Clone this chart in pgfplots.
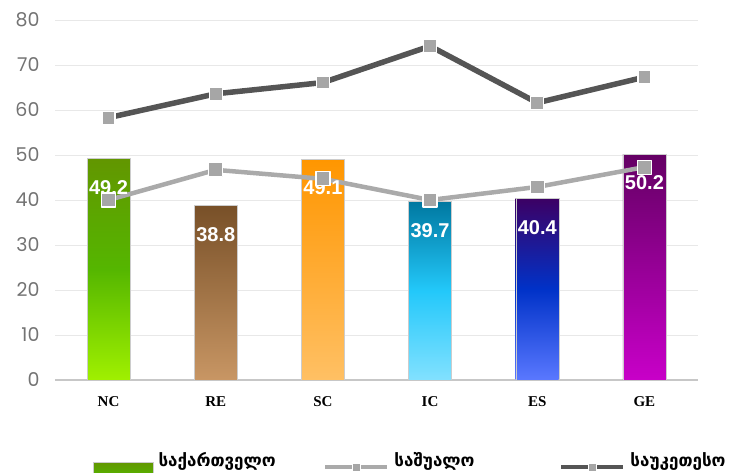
\documentclass[border=0pt]{standalone}
\usepackage{pgfplots}
\pgfplotsset{compat=1.18}
\usepackage{fontspec}
\setmainfont{Liberation Sans}
\newfontfamily\geo{DejaVu Sans}
\newfontfamily\tickf{Poppins}
\newfontfamily\lab{Liberation Serif}
\definecolor{ncT}{RGB}{98,150,0}
\definecolor{ncM}{RGB}{85,182,0}
\definecolor{ncB}{RGB}{160,240,0}
\definecolor{reT}{RGB}{120,80,40}
\definecolor{reB}{RGB}{200,150,100}
\definecolor{scT}{RGB}{255,150,0}
\definecolor{scB}{RGB}{255,192,100}
\definecolor{icT}{RGB}{0,120,160}
\definecolor{icM}{RGB}{35,200,250}
\definecolor{icB}{RGB}{130,225,255}
\definecolor{esT}{RGB}{60,0,100}
\definecolor{esM}{RGB}{0,50,200}
\definecolor{esB}{RGB}{90,120,255}
\definecolor{geT}{RGB}{100,0,100}
\definecolor{geB}{RGB}{200,0,200}
\definecolor{midline}{RGB}{170,170,170}
\definecolor{topline}{RGB}{85,85,85}
\definecolor{markgray}{RGB}{166,166,166}
\pgfplotsset{
  linelegend/.style={legend image code/.code={\draw[mark repeat=2,mark phase=2,##1, line width=4pt, mark size=4pt] plot coordinates {(0pt,-7pt) (31pt,-7pt) (62pt,-7pt)};}},
  barlegend/.style={legend image code/.code={\fill[top color=ncT, bottom color=ncM] (0pt,-17pt) rectangle (60pt,-2pt);}},
}
\begin{document}
\begin{tikzpicture}
\begin{axis}[
  at={(0pt,0pt)}, anchor=south west,
  scale only axis, width=643pt, height=360pt,
  xmin=-0.5, xmax=5.5, ymin=0, ymax=80,
  ytick={0,10,...,80},
  xtick={0,...,5}, xticklabels={NC,RE,SC,IC,ES,GE},
  /pgf/number format/assume math mode=true,
  axis x line*=bottom, axis y line*=left,
  x axis line style={draw=black!22, line width=2pt, -},
  y axis line style={draw=none, -},
  major tick length=0pt,
  ymajorgrids, grid style={draw=black!9, line width=0.8pt},
  yticklabel style={font=\tickf\fontsize{19}{19}\selectfont, text=black!55, xshift=-12pt},
  xticklabel style={font=\lab\bfseries\fontsize{15}{15}\selectfont, text=black, yshift=-13pt},
  legend columns=3,
  legend style={at={(0,0)}, anchor=west, xshift=38pt, yshift=-84pt, draw=none, fill=none, inner sep=0pt,
    font=\geo\bfseries\fontsize{17}{17}\selectfont,
    /tikz/every odd column/.append style={column sep=3pt}},
  legend cell align=left,
  bar nodes/.style={nodes near coords, nodes near coords style={text=white, font=\bfseries\fontsize{20}{20}\selectfont, anchor=center, yshift=-29pt}},
  mybar/.style={ybar, bar width=43pt, bar shift=0pt, draw=white!80!black, line width=0.3pt, bar nodes},
]
\addplot[mybar, top color=ncT, bottom color=ncB, middle color=ncM, barlegend]
  coordinates {(0,49.2)};
\addlegendentry{\makebox[163pt][l]{საქართველო}}
\addplot[mybar, forget plot, top color=reT, bottom color=reB] coordinates {(1,38.8)};
\addplot[mybar, forget plot, top color=scT, bottom color=scB] coordinates {(2,49.1)};
\addplot[mybar, forget plot, top color=icT, bottom color=icB, middle color=icM] coordinates {(3,39.7)};
\addplot[mybar, forget plot, top color=esT, bottom color=esB, middle color=esM] coordinates {(4,40.4)};
\addplot[mybar, forget plot, top color=geT, bottom color=geB] coordinates {(5,50.2)};
\addplot[color=midline, line width=4.5pt, line join=round, mark=square*, mark size=7pt,
  mark options={fill=markgray, draw=white, line width=1.2pt}, linelegend]
  coordinates {(0,40.0) (1,46.7) (2,44.7) (3,40.0) (4,42.9) (5,47.3)};
\addlegendentry{\makebox[163pt][l]{საშუალო}}
\addplot[color=topline, line width=5.5pt, line join=round, mark=square*, mark size=6.5pt,
  mark options={fill=markgray, draw=white, line width=1.2pt}, linelegend]
  coordinates {(0,58.3) (1,63.6) (2,66.1) (3,74.2) (4,61.6) (5,67.3)};
\addlegendentry{საუკეთესო}
\end{axis}
\pgfresetboundingbox
\useasboundingbox (-55pt,-93pt) rectangle (674pt,380pt);
\end{tikzpicture}
\end{document}
